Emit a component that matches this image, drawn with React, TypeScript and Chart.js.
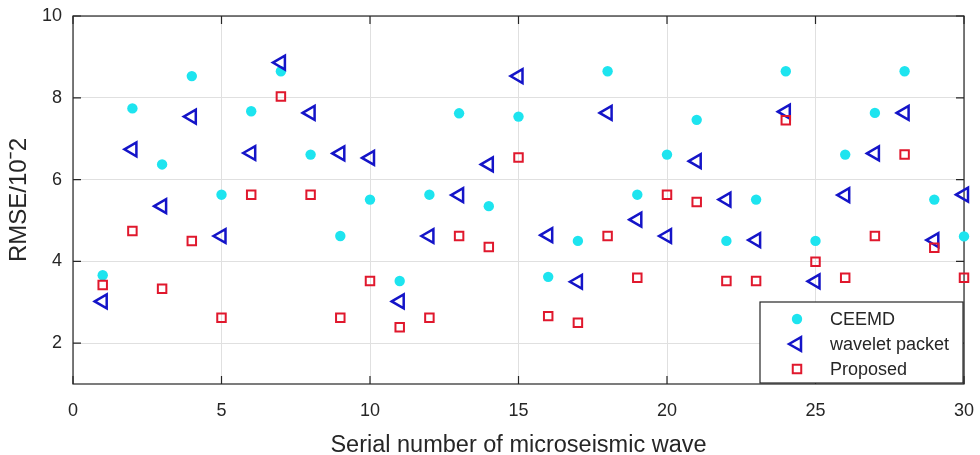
import React, { useEffect, useRef } from "react";
import { Chart, registerables } from "chart.js";

Chart.register(...registerables);

const serialNumbers = Array.from({ length: 30 }, (_, i) => i + 1);
const ceemd = [3.66, 7.74, 6.37, 8.53, 5.63, 7.67, 8.65, 6.61, 4.62, 5.51, 3.52, 5.63, 7.62, 5.35, 7.54, 3.62, 4.5, 8.65, 5.63, 6.61, 7.46, 4.5, 5.51, 8.65, 4.5, 6.61, 7.63, 8.65, 5.51, 4.61];
const waveletPacket = [3.02, 6.74, 5.35, 7.54, 4.62, 6.65, 8.86, 7.63, 6.64, 6.53, 3.02, 4.62, 5.62, 6.37, 8.53, 4.64, 3.5, 7.63, 5.02, 4.62, 6.45, 5.51, 4.52, 7.66, 3.51, 5.62, 6.64, 7.63, 4.52, 5.63];
const proposed = [3.42, 4.74, 3.33, 4.5, 2.62, 5.63, 8.03, 5.63, 2.62, 3.52, 2.39, 2.62, 4.62, 4.35, 6.54, 2.66, 2.5, 4.62, 3.6, 5.63, 5.45, 3.52, 3.52, 7.45, 3.99, 3.6, 4.62, 6.61, 4.33, 3.6];
const yTickValues = [2, 4, 6, 8, 10];
const legendLabels = ["CEEMD", "wavelet packet", "Proposed"];

const FONT = "'Liberation Sans', Arial, Helvetica, sans-serif";
const TEXT = "#262626";
const CYAN = "#1de4ef";
const BLUE = "#1414c8";
const RED = "#e0182d";

const toPoints = (ys: number[]) => ys.map((y, i) => ({ x: serialNumbers[i], y }));

const framePlugin = {
  id: "frame",
  beforeDatasetsDraw(chart: any) {
    const { ctx, chartArea } = chart;
    const { left, right, top, bottom } = chartArea;
    const xs = chart.scales.x;
    const ys = chart.scales.y;
    ctx.save();
    ctx.strokeStyle = "#262626";
    ctx.lineWidth = 1.2;
    ctx.strokeRect(left, top, right - left, bottom - top);
    const tl = 8;
    ctx.beginPath();
    xs.ticks.forEach((t: any) => {
      const px = xs.getPixelForValue(t.value);
      ctx.moveTo(px, bottom);
      ctx.lineTo(px, bottom - tl);
      ctx.moveTo(px, top);
      ctx.lineTo(px, top + tl);
    });
    ys.ticks.forEach((t: any) => {
      const py = ys.getPixelForValue(t.value);
      ctx.moveTo(left, py);
      ctx.lineTo(left + tl, py);
      ctx.moveTo(right, py);
      ctx.lineTo(right - tl, py);
    });
    ctx.stroke();
    ctx.restore();
  },
};

function drawMarker(ctx: CanvasRenderingContext2D, ds: any, x: number, y: number) {
  const r = ds.pointRadius;
  ctx.beginPath();
  if (ds.pointStyle === "circle") {
    ctx.arc(x, y, r, 0, Math.PI * 2);
    ctx.fill();
  } else if (ds.pointStyle === "triangle") {
    for (let k = 0; k < 3; k++) {
      const a = (ds.pointRotation * Math.PI) / 180 + (k * 2 * Math.PI) / 3;
      const px = x + Math.sin(a) * r;
      const py = y - Math.cos(a) * r;
      if (k === 0) ctx.moveTo(px, py);
      else ctx.lineTo(px, py);
    }
    ctx.closePath();
    ctx.stroke();
  } else {
    const s = r * Math.SQRT1_2;
    ctx.rect(x - s, y - s, 2 * s, 2 * s);
    ctx.stroke();
  }
}

const legendPlugin = {
  id: "boxLegend",
  afterDraw(chart: any) {
    const { ctx, chartArea } = chart;
    const w = 203;
    const h = 81;
    const x0 = chartArea.right - w - 1;
    const y0 = chartArea.bottom - h - 1;
    ctx.save();
    ctx.fillStyle = "#ffffff";
    ctx.fillRect(x0, y0, w, h);
    ctx.strokeStyle = "#262626";
    ctx.lineWidth = 1.2;
    ctx.strokeRect(x0, y0, w, h);
    ctx.font = `18px ${FONT}`;
    ctx.textBaseline = "middle";
    ctx.textAlign = "left";
    chart.data.datasets.forEach((ds: any, i: number) => {
      const cy = y0 + 17 + i * 25;
      const cx = x0 + 37;
      ctx.save();
      ctx.strokeStyle = ds.pointBorderColor;
      ctx.fillStyle = ds.pointBackgroundColor;
      ctx.lineWidth = ds.pointBorderWidth;
      drawMarker(ctx, ds, cx, cy);
      ctx.restore();
      ctx.fillStyle = TEXT;
      ctx.fillText(legendLabels[i], x0 + 70, cy + 1);
    });
    ctx.restore();
  },
};

export default function App() {
  const canvasRef = useRef<HTMLCanvasElement | null>(null);

  useEffect(() => {
    if (!canvasRef.current) return;
    const chart = new Chart(canvasRef.current, {
      type: "scatter",
      data: {
        datasets: [
          {
            label: legendLabels[0],
            data: toPoints(ceemd),
            pointStyle: "circle",
            pointRadius: 5.2,
            pointBackgroundColor: CYAN,
            pointBorderColor: CYAN,
            pointBorderWidth: 0,
            pointRotation: 0,
            order: 3,
            clip: false,
          } as any,
          {
            label: legendLabels[1],
            data: toPoints(waveletPacket),
            pointStyle: "triangle",
            pointRotation: -90,
            pointRadius: 8,
            pointBackgroundColor: "rgba(0,0,0,0)",
            pointBorderColor: BLUE,
            pointBorderWidth: 2.5,
            order: 2,
            clip: false,
          } as any,
          {
            label: legendLabels[2],
            data: toPoints(proposed),
            pointStyle: "rect",
            pointRadius: 6,
            pointBackgroundColor: "rgba(0,0,0,0)",
            pointBorderColor: RED,
            pointBorderWidth: 2,
            pointRotation: 0,
            order: 1,
            clip: false,
          } as any,
        ],
      },
      options: {
        animation: false,
        responsive: false,
        maintainAspectRatio: false,
        layout: { padding: { top: 16, right: 16, left: 0, bottom: 0 } },
        plugins: {
          legend: { display: false },
          tooltip: { enabled: false },
        },
        scales: {
          x: {
            type: "linear",
            min: 0,
            max: 30,
            ticks: {
              stepSize: 5,
              padding: 16,
              color: TEXT,
              font: { family: FONT, size: 18 },
              maxRotation: 0,
            },
            grid: { color: "#e0e0e0", lineWidth: 1, drawTicks: false },
            border: { display: false },
            title: {
              display: true,
              text: "Serial number of microseismic wave",
              color: TEXT,
              font: { family: FONT, size: 23.5, lineHeight: 1 },
              padding: { top: 0, bottom: -2 },
            },
            afterFit: (scale: any) => {
              scale.height = 71;
              scale.paddingLeft = 0;
              scale.paddingRight = 0;
            },
          },
          y: {
            type: "linear",
            min: 1,
            max: 10,
            afterBuildTicks: (scale: any) => {
              scale.ticks = yTickValues.map((v) => ({ value: v }));
            },
            ticks: {
              padding: 11,
              color: TEXT,
              font: { family: FONT, size: 18 },
            },
            grid: { color: "#e0e0e0", lineWidth: 1, drawTicks: false },
            border: { display: false },
            title: {
              display: true,
              text: "RMSE/10ˉ2",
              color: TEXT,
              font: { family: FONT, size: 24, lineHeight: 1 },
              padding: { top: 7, bottom: 0 },
            },
            afterFit: (scale: any) => {
              scale.width = 73;
              scale.paddingTop = 0;
              scale.paddingBottom = 0;
            },
          },
        },
      } as any,
      plugins: [framePlugin, legendPlugin],
    });
    return () => chart.destroy();
  }, []);

  return (
    <div style={{ position: "absolute", left: 0, top: 0, width: 980, height: 455, background: "#ffffff" }}>
      <canvas ref={canvasRef} width={980} height={455} style={{ width: 980, height: 455, display: "block" }} />
    </div>
  );
}
